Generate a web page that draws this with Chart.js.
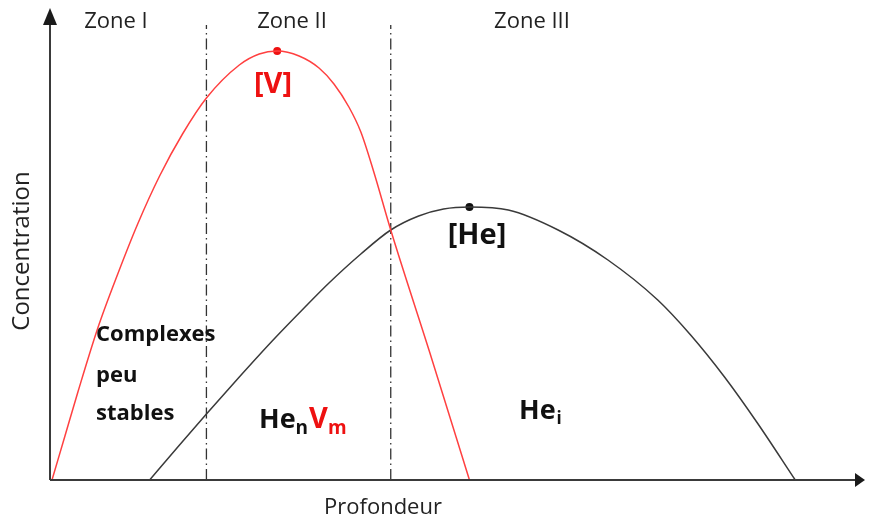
<!DOCTYPE html>
<html>
<head>
<meta charset="utf-8">
<script src="https://cdn.jsdelivr.net/npm/chart.js@4.4.0/dist/chart.umd.min.js"></script>
<style>
  html, body { margin: 0; padding: 0; background: #fff; }
  #box { width: 869px; height: 524px; }
</style>
</head>
<body>
<div id="box"><canvas id="chartContainer" width="869" height="524"></canvas></div>
<script>
// profondeur / concentration (unités arbitraires)
var vacX = [2, 15, 28, 48, 68, 88, 110, 133, 157, 190, 210, 228, 250, 270, 285, 300, 312, 325, 342, 381, 421];
var vacY = [0, 44, 88, 152, 206, 256, 304, 346, 382, 415, 426, 429, 424, 412, 396, 373, 348, 308, 250, 128, 0];

var heX = [100, 130, 157, 190, 223, 255, 280, 312, 342, 370, 395, 421, 460, 510, 560, 610, 643, 677, 710, 748];
var heY = [0, 35, 66, 103, 139, 172, 197, 226, 250, 264, 271, 273, 270, 250, 220, 180, 145, 103, 57, 0];

// maxima des deux courbes
var vacPeak = [228, 429];
var hePeak = [421, 273];

// limites des zones
var zoneBounds = [157, 342];
var zoneTop = 455;
var zoneNames = ['Zone I', 'Zone II', 'Zone III'];

function toPoints(xs, ys) {
    var pts = [];
    for (var i = 0; i < xs.length; i++) pts.push({x: xs[i], y: ys[i]});
    return pts;
}

var datasets = [{
    data: toPoints(vacX, vacY),
    borderColor: '#ff4040',
    borderWidth: 1.5,
    showLine: true,
    cubicInterpolationMode: 'monotone',
    pointRadius: 0
}, {
    data: toPoints(heX, heY),
    borderColor: '#3a3a3a',
    borderWidth: 1.5,
    showLine: true,
    cubicInterpolationMode: 'monotone',
    pointRadius: 0
}, {
    data: [{x: vacPeak[0], y: vacPeak[1]}],
    pointRadius: 4,
    pointBackgroundColor: '#ee1111',
    pointBorderWidth: 0
}, {
    data: [{x: hePeak[0], y: hePeak[1]}],
    pointRadius: 4,
    pointBackgroundColor: '#111',
    pointBorderWidth: 0
}];

zoneBounds.forEach(function(b) {
    datasets.push({
        data: [{x: b, y: 0}, {x: b, y: zoneTop}],
        borderColor: '#333',
        borderWidth: 1.3,
        borderDash: [11, 4, 1.5, 4],
        showLine: true,
        pointRadius: 0
    });
});

// axes avec flèches + textes
var decor = {
    id: 'decor',
    afterDatasetsDraw: function(chart) {
        var c = chart.ctx, a = chart.chartArea;
        var x0 = chart.scales.x.getPixelForValue(0);
        var y0 = chart.scales.y.getPixelForValue(0);
        c.save();
        c.strokeStyle = '#3a3a3a';
        c.fillStyle = '#1a1a1a';
        c.lineWidth = 2;
        c.beginPath();
        c.moveTo(x0, y0); c.lineTo(x0, a.top + 14);
        c.moveTo(x0, y0); c.lineTo(a.right - 8, y0);
        c.stroke();
        c.beginPath();
        c.moveTo(x0, a.top - 2); c.lineTo(x0 - 7, a.top + 15); c.lineTo(x0 + 7, a.top + 15);
        c.closePath(); c.fill();
        c.beginPath();
        c.moveTo(a.right, y0); c.lineTo(a.right - 10, y0 - 7); c.lineTo(a.right - 10, y0 + 7);
        c.closePath(); c.fill();

        c.textBaseline = 'middle';
        c.textAlign = 'center';
        c.fillStyle = '#222';
        c.font = '22px "Open Sans"';
        c.fillText('Profondeur', 383, 508);
        var zx = [116, 292, 532];
        zoneNames.forEach(function(z, i) { c.fillText(z, zx[i], 22); });
        c.save();
        c.translate(22, 251);
        c.rotate(-Math.PI / 2);
        c.font = '24px "Open Sans"';
        c.fillText('Concentration', 0, 0);
        c.restore();

        c.font = 'bold 29px "Open Sans"';
        c.fillStyle = '#ee1111';
        c.fillText('[V]', 273, 85);
        c.fillStyle = '#111';
        c.fillText('[He]', 477, 236);

        c.textAlign = 'left';
        c.font = 'bold 22px "Open Sans"';
        c.fillText('Complexes', 96, 335);
        c.fillText('peu', 96, 376);
        c.fillText('stables', 96, 414);

        c.font = 'bold 27px "Open Sans"';
        c.fillText('He', 259, 420);
        var w = c.measureText('He').width;
        c.font = 'bold 19px "Open Sans"';
        c.fillText('n', 259 + w, 429);
        var w2 = c.measureText('n').width;
        c.fillStyle = '#ee1111';
        c.font = 'bold 29px "Open Sans"';
        c.fillText('V', 260 + w + w2, 420);
        var w3 = c.measureText('V').width;
        c.font = 'bold 19px "Open Sans"';
        c.fillText('m', 260 + w + w2 + w3, 429);

        c.fillStyle = '#111';
        c.font = 'bold 27px "Open Sans"';
        c.fillText('He', 519, 411);
        var w4 = c.measureText('He').width;
        c.font = 'bold 17px "Open Sans"';
        c.fillText('i', 520 + w4, 419);
        c.restore();
    }
};

var ctx = document.getElementById('chartContainer').getContext('2d');
ctx.chart = new Chart(ctx, {
    type: 'scatter',
    data: { datasets: datasets },
    options: {
        responsive: false,
        animation: false,
        layout: { padding: { left: 50, right: 1, top: 10, bottom: 44 } },
        scales: {
            x: { type: 'linear', min: 0, max: 818, display: false },
            y: { type: 'linear', min: 0, max: 470, display: false }
        },
        plugins: {
            legend: { display: false },
            tooltip: { enabled: false }
        }
    },
    plugins: [decor]
});
</script>
</body>
</html>
